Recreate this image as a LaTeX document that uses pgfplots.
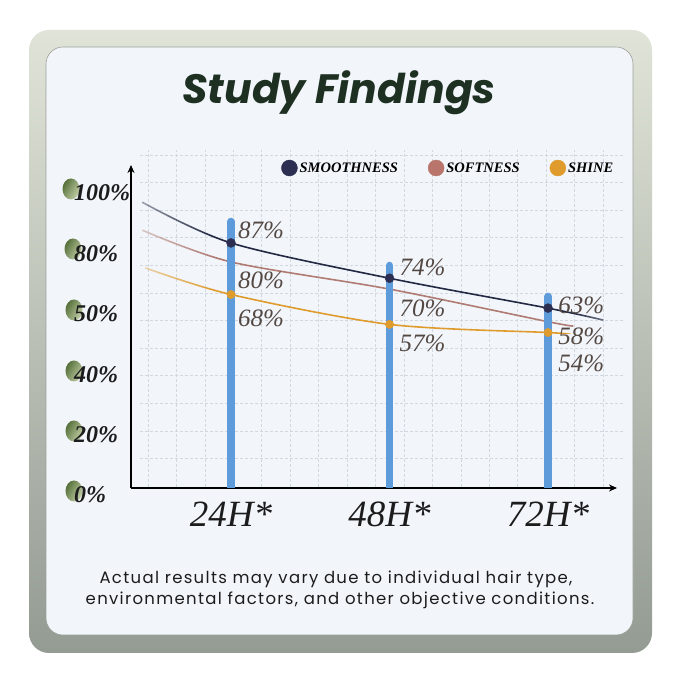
\documentclass[border=0pt]{standalone}
\usepackage{fontspec}
\setmainfont{Liberation Serif}
\newfontfamily\poppins{Poppins}
\usepackage{pgfplots}
\pgfplotsset{compat=1.18}
\usetikzlibrary{arrows.meta,fadings}

\definecolor{frameTop}{HTML}{E0E4D8}
\definecolor{frameBot}{HTML}{949B93}
\definecolor{cardc}{HTML}{F2F6FB}
\definecolor{cardedge}{HTML}{9AA097}
\definecolor{gridc}{HTML}{D2D8E0}
\definecolor{smoothc}{HTML}{232943}
\definecolor{smoothdot}{HTML}{2C2F52}
\definecolor{softc}{HTML}{B07B72}
\definecolor{softdot}{HTML}{B9756B}
\definecolor{shinec}{HTML}{E09B2D}
\definecolor{barblue}{HTML}{5E9BDA}
\definecolor{valc}{HTML}{544843}
\definecolor{titlec}{HTML}{1E3022}
\definecolor{leafd}{HTML}{56703A}
\definecolor{leafl}{HTML}{C4D0A8}
\definecolor{textc}{HTML}{1C1C1C}

\begin{tikzfadingfrompicture}[name=fadeSmooth]
\path (-1cm,-1.2cm) rectangle (1cm,1.2cm);
\shade[left color=transparent!85, right color=transparent!0] (-1cm,-1.2cm) rectangle (-0.61cm,1.2cm);
\fill[transparent!0] (-0.62cm,-1.2cm) rectangle (0.765cm,1.2cm);
\shade[left color=transparent!0, right color=transparent!75] (0.76cm,-1.2cm) rectangle (1cm,1.2cm);
\end{tikzfadingfrompicture}
\begin{tikzfadingfrompicture}[name=fadeSoft]
\path (-1cm,-1.2cm) rectangle (1cm,1.2cm);
\shade[left color=transparent!85, right color=transparent!0] (-1cm,-1.2cm) rectangle (-0.583cm,1.2cm);
\fill[transparent!0] (-0.593cm,-1.2cm) rectangle (0.887cm,1.2cm);
\shade[left color=transparent!0, right color=transparent!40] (0.882cm,-1.2cm) rectangle (1cm,1.2cm);
\end{tikzfadingfrompicture}
\begin{tikzfadingfrompicture}[name=fadeShine]
\path (-1cm,-1.2cm) rectangle (1cm,1.2cm);
\shade[left color=transparent!85, right color=transparent!0] (-1cm,-1.2cm) rectangle (-0.585cm,1.2cm);
\fill[transparent!0] (-0.595cm,-1.2cm) rectangle (1cm,1.2cm);
\end{tikzfadingfrompicture}

\begin{document}
\begin{tikzpicture}
\useasboundingbox (0,0) rectangle (679pt,679pt);
\fill[white] (0,0) rectangle (679pt,679pt);
% frame and card
\shade[top color=frameTop, bottom color=frameBot, rounded corners=20pt] (29pt,26pt) rectangle (652pt,649pt);
\draw[cardedge, line width=0.6pt, fill=cardc, rounded corners=17pt] (46pt,44pt) rectangle (633pt,632pt);
% background dashed grid
\foreach \k in {0,...,11} {
  \draw[gridc, line width=0.8pt, dash pattern=on 2.5pt off 2.5pt] (140pt,{679pt-(155pt+27.6pt*\k)}) -- (625pt,{679pt-(155pt+27.6pt*\k)});
}
\foreach \k in {0,...,16} {
  \draw[gridc, line width=0.8pt, dash pattern=on 2.5pt off 2.5pt] ({148pt+28.45pt*\k},192pt) -- ({148pt+28.45pt*\k},529pt);
}
% leaf icons behind y tick labels
\foreach \x/\y in {71/490,73/430,74/369,74/308,74/248,74/188} {
  \shade[left color=leafd, right color=leafl, shading angle=60]
    (\x pt,\y pt) ellipse [x radius=8.5pt, y radius=10.5pt];
}
% title
\node[anchor=base, text=titlec, inner sep=0pt] at (339pt,575pt)
  {\poppins\bfseries\itshape\fontsize{41}{41}\selectfont Study Findings};

\begin{axis}[
  at={(131pt,191pt)}, anchor=south west,
  scale only axis, width=486pt, height=323pt,
  xmin=-0.631, xmax=2.435, ymin=-3.25, ymax=115.7,
  axis lines=left,
  axis line style={line width=1.1pt, black, -{Stealth[length=8pt,width=7pt]}},
  major tick length=0pt,
  xtick={0,1,2}, xticklabels={24H*,48H*,72H*},
  xticklabel style={font=\fontsize{37}{37}\selectfont\itshape, anchor=base, yshift=-39pt, inner sep=0pt, text=textc},
  ytick={107.95,85.49,63.40,40.94,18.85,-3.24},
  yticklabels={100\%,80\%,50\%,40\%,20\%,0\%},
  yticklabel style={font=\fontsize{24}{24}\selectfont\bfseries\itshape, anchor=west, xshift=-57pt, yshift=-7pt, inner sep=0pt, text=textc},
  legend style={at={(0.3087,0.9907)}, anchor=west, draw=none, fill=none,
    inner sep=0pt, font=\fontsize{14.5}{16}\selectfont\bfseries\itshape,
    /tikz/every even column/.append style={column sep=28pt}},
  legend columns=3,
  legend cell align=left,
]
% curves (with faded tails)
\addplot[smooth, color=smoothc, line width=1.6pt, path fading=fadeSmooth, forget plot]
  coordinates {(-0.56,102) (0,87) (1,74) (2,63) (2.35,58.6)};
\addplot[smooth, color=softc, line width=1.6pt, path fading=fadeSoft, forget plot]
  coordinates {(-0.56,91.7) (0,80) (1,70) (2,58) (2.16,56.4)};
\addplot[smooth, color=shinec, line width=1.6pt, path fading=fadeShine, forget plot]
  coordinates {(-0.54,77.8) (0,68) (1,57) (2,54) (2.09,53.6)};
% bars
\addplot[barblue, line width=7.5pt, line cap=round, forget plot] coordinates {(0,-3.25) (0,94.9)};
\addplot[barblue, line width=7.5pt, line cap=round, forget plot] coordinates {(1,-3.25) (1,78.7)};
\addplot[barblue, line width=7.5pt, line cap=round, forget plot] coordinates {(2,-3.25) (2,67.3)};
% dots
\addplot[only marks, mark=*, mark size=4.5pt, color=smoothdot, forget plot] coordinates {(0,87) (1,74) (2,63)};
\addplot[only marks, mark=*, mark size=4.2pt, color=shinec, forget plot] coordinates {(0,68) (1,57) (2,54)};
% legend
\addlegendimage{legend image code/.code={\fill[smoothdot] (0pt,0pt) circle (8pt);}}
\addlegendentry{SMOOTHNESS}
\addlegendimage{legend image code/.code={\fill[softdot] (0pt,0pt) circle (8pt);}}
\addlegendentry{SOFTNESS}
\addlegendimage{legend image code/.code={\fill[shinec] (0pt,0pt) circle (8pt);}}
\addlegendentry{SHINE}
% value labels
\tikzset{vl/.style={anchor=west, text=valc, inner sep=0pt, font=\fontsize{25}{25}\selectfont\itshape}}
\node[vl, xshift=7pt] at (axis cs:0,91.75) {87\%};
\node[vl, xshift=7pt] at (axis cs:0,73.3) {80\%};
\node[vl, xshift=7pt] at (axis cs:0,59.35) {68\%};
\node[vl, xshift=10pt] at (axis cs:1,78.13) {74\%};
\node[vl, xshift=10pt] at (axis cs:1,63.03) {70\%};
\node[vl, xshift=10pt] at (axis cs:1,50.15) {57\%};
\node[vl, xshift=10pt] at (axis cs:2,64.14) {63\%};
\node[vl, xshift=10pt] at (axis cs:2,52.72) {58\%};
\node[vl, xshift=10pt] at (axis cs:2,42.78) {54\%};
\end{axis}

% footnote
\node[anchor=base, text=textc, inner sep=0pt] at (336pt,95pt)
  {\poppins\addfontfeatures{LetterSpace=8}\fontsize{16.5}{16.5}\selectfont Actual results may vary due to individual hair type,};
\node[anchor=base, text=textc, inner sep=0pt] at (340pt,74pt)
  {\poppins\addfontfeatures{LetterSpace=8}\fontsize{16.5}{16.5}\selectfont environmental factors, and other objective conditions.};
\end{tikzpicture}
\end{document}
